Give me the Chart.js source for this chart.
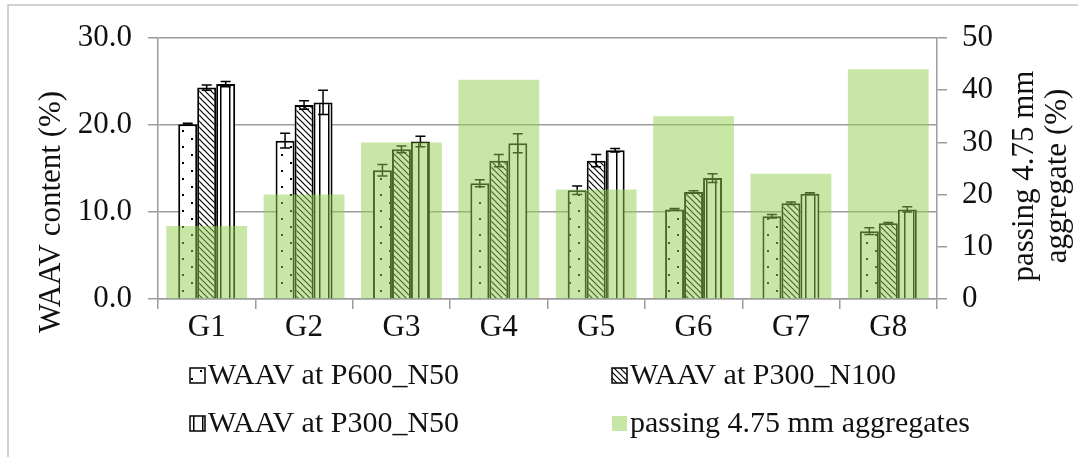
<!DOCTYPE html>
<html>
<head>
<meta charset="utf-8">
<title>WAAV content by gradation</title>
<script src="https://cdn.jsdelivr.net/npm/chart.js@4.4.1/dist/chart.umd.min.js"></script>
<style>
    html, body { margin: 0; padding: 0; background: #fff; }
    #wrap { position: relative; width: 1078px; height: 457px; }
</style>
</head>
<body>
<div id="wrap"><canvas id="waavChart"></canvas></div>
<script>
// Gradations
const groups = ['G1', 'G2', 'G3', 'G4', 'G5', 'G6', 'G7', 'G8'];

// WAAV content (%) for each compaction condition, with +/- error
const waavP600N50 = [20.1, 18.2, 14.8, 13.3, 12.5, 10.3, 9.5, 7.8];
const errP600N50 = [0.1, 0.85, 0.65, 0.4, 0.5, 0.1, 0.2, 0.4];
const waavP300N100 = [24.3, 22.3, 17.2, 15.9, 15.9, 12.3, 11.0, 8.7];
const errP300N100 = [0.3, 0.5, 0.4, 0.7, 0.7, 0.15, 0.15, 0.1];
const waavP300N50 = [24.7, 22.6, 18.1, 17.9, 17.1, 13.9, 12.1, 10.3];
const errP300N50 = [0.3, 1.4, 0.6, 1.1, 0.2, 0.5, 0.1, 0.3];

// Passing 4.75 mm aggregate (%), right axis
const passing475 = [14, 20, 30, 42, 21, 35, 24, 44];

// Axis ticks
const leftTicks = [0, 10, 20, 30];
const rightTicks = [0, 10, 20, 30, 40, 50];

const SERIF = "'Liberation Serif', 'DejaVu Serif', serif";
const GRID = '#9c9c9c';
const GREEN = 'rgba(146, 208, 80, 0.5)';
const TEXT = '#111';

// --- fill patterns ---
function makeTile(w, h, draw) {
    const c = document.createElement('canvas');
    c.width = w;
    c.height = h;
    const g = c.getContext('2d');
    g.fillStyle = '#fff';
    g.fillRect(0, 0, w, h);
    draw(g);
    return g.createPattern(c, 'repeat');
}

const dotPattern = makeTile(18, 16, g => {
    g.fillStyle = '#000';
    g.fillRect(2, 2, 2, 2);
    g.fillRect(11, 10, 2, 2);
});

const hatchPattern = makeTile(6, 6, g => {
    g.strokeStyle = '#000';
    g.lineWidth = 1.2;
    g.beginPath();
    g.moveTo(-1, -1); g.lineTo(7, 7);
    g.moveTo(-4, 2); g.lineTo(2, 8);
    g.moveTo(4, -2); g.lineTo(8, 2);
    g.stroke();
});

const stripePattern = makeTile(9, 4, g => {
    g.fillStyle = '#000';
    g.fillRect(4, 0, 1.5, 4);
});

// one entry per dataset; the green one has none
const errorSets = [errP600N50, errP300N100, errP300N50, null];

// error bars drawn right after each WAAV dataset, so the green overlay sits on top
const errorBars = {
    id: 'errorBars',
    afterDatasetDraw(chart, args) {
        const errs = errorSets[args.index];
        if (!errs) return;
        const ctx = chart.ctx;
        const y = chart.scales.y;
        const vals = chart.data.datasets[args.index].data;
        ctx.save();
        ctx.strokeStyle = '#000';
        ctx.lineWidth = 1.5;
        args.meta.data.forEach((bar, i) => {
            const top = y.getPixelForValue(vals[i] + errs[i]);
            const bot = y.getPixelForValue(vals[i] - errs[i]);
            ctx.beginPath();
            ctx.moveTo(bar.x, top); ctx.lineTo(bar.x, bot);
            ctx.moveTo(bar.x - 5, top); ctx.lineTo(bar.x + 5, top);
            ctx.moveTo(bar.x - 5, bot); ctx.lineTo(bar.x + 5, bot);
            ctx.stroke();
        });
        ctx.restore();
    }
};

// frame, axis titles and the two-column legend
const decorations = {
    id: 'decorations',
    beforeDraw(chart) {
        const ctx = chart.ctx;
        ctx.save();
        ctx.strokeStyle = '#c4c4c4';
        ctx.lineWidth = 1.5;
        ctx.beginPath();
        ctx.moveTo(8, chart.height);
        ctx.lineTo(8, 5);
        ctx.lineTo(chart.width, 5);
        ctx.stroke();
        ctx.restore();
    },
    afterDraw(chart) {
        const ctx = chart.ctx;
        ctx.save();
        ctx.fillStyle = TEXT;
        ctx.font = '31px ' + SERIF;
        ctx.textAlign = 'center';
        ctx.textBaseline = 'middle';

        ctx.save();
        ctx.translate(52, 212);
        ctx.rotate(-Math.PI / 2);
        ctx.fillText('WAAV content (%)', 0, 0);
        ctx.restore();

        ctx.save();
        ctx.translate(1025, 176);
        ctx.rotate(-Math.PI / 2);
        ctx.fillText('passing 4.75 mm', 0, 0);
        ctx.fillText('aggregate (%)', 0, 33);
        ctx.restore();

        // legend, two columns by two rows
        const cols = [190, 612];
        const rows = [384, 432];
        ctx.font = '30px ' + SERIF;
        ctx.textAlign = 'left';
        ctx.textBaseline = 'alphabetic';
        chart.data.datasets.forEach((ds, i) => {
            const x = cols[i % 2];
            const base = rows[Math.floor(i / 2)];
            ctx.fillStyle = ds.legendFill;
            ctx.fillRect(x, base - 16, 15, 15);
            if (ds.borderWidth) {
                ctx.strokeStyle = '#000';
                ctx.lineWidth = 1.5;
                ctx.strokeRect(x, base - 16, 15, 15);
            }
            ctx.fillStyle = TEXT;
            ctx.fillText(ds.label, x + 18, base);
        });
        ctx.restore();
    }
};

function waavSet(label, data, fill, order) {
    return {
        label: label,
        data: data,
        yAxisID: 'y',
        backgroundColor: fill,
        legendFill: fill,
        borderColor: '#000',
        borderWidth: 2,
        categoryPercentage: 0.585,
        barPercentage: 1.0,
        order: order
    };
}

new Chart(document.getElementById('waavChart'), {
    type: 'bar',
    data: {
        labels: groups,
        datasets: [
            waavSet('WAAV at P600_N50', waavP600N50, dotPattern, 1),
            waavSet('WAAV at P300_N100', waavP300N100, hatchPattern, 2),
            waavSet('WAAV at P300_N50', waavP300N50, stripePattern, 3),
            {
                label: 'passing 4.75 mm aggregates',
                data: passing475,
                yAxisID: 'y1',
                backgroundColor: GREEN,
                legendFill: GREEN,
                borderWidth: 0,
                grouped: false,
                categoryPercentage: 1.0,
                barPercentage: 0.83,
                order: 0
            }
        ]
    },
    options: {
        responsive: true,
        maintainAspectRatio: false,
        animation: false,
        layout: {
            padding: { top: 38, left: 0, right: 0, bottom: 0 }
        },
        plugins: {
            legend: { display: false },
            tooltip: { enabled: false }
        },
        scales: {
            x: {
                offset: true,
                grid: {
                    offset: true,
                    drawOnChartArea: false,
                    color: GRID,
                    lineWidth: 1.5,
                    tickLength: 10
                },
                border: { color: GRID, width: 1.5 },
                ticks: {
                    color: TEXT,
                    padding: 0,
                    font: { family: SERIF, size: 31 }
                },
                afterFit(scale) { scale.height = 158; }
            },
            y: {
                position: 'left',
                min: 0,
                max: 30,
                afterBuildTicks(scale) {
                    scale.ticks = leftTicks.map(v => ({ value: v }));
                },
                grid: {
                    color: GRID,
                    lineWidth: 1.5,
                    tickLength: 10
                },
                border: { color: GRID, width: 1.5 },
                ticks: {
                    color: TEXT,
                    padding: 16,
                    font: { family: SERIF, size: 31 },
                    callback: v => v.toFixed(1)
                },
                afterFit(scale) { scale.width = 158; }
            },
            y1: {
                position: 'right',
                min: 0,
                max: 50,
                afterBuildTicks(scale) {
                    scale.ticks = rightTicks.map(v => ({ value: v }));
                },
                grid: {
                    drawOnChartArea: false,
                    color: GRID,
                    lineWidth: 1.5,
                    tickLength: 10
                },
                border: { color: GRID, width: 1.5 },
                ticks: {
                    color: TEXT,
                    padding: 15,
                    font: { family: SERIF, size: 31 }
                },
                afterFit(scale) { scale.width = 141; }
            }
        }
    },
    plugins: [errorBars, decorations]
});
</script>
</body>
</html>
